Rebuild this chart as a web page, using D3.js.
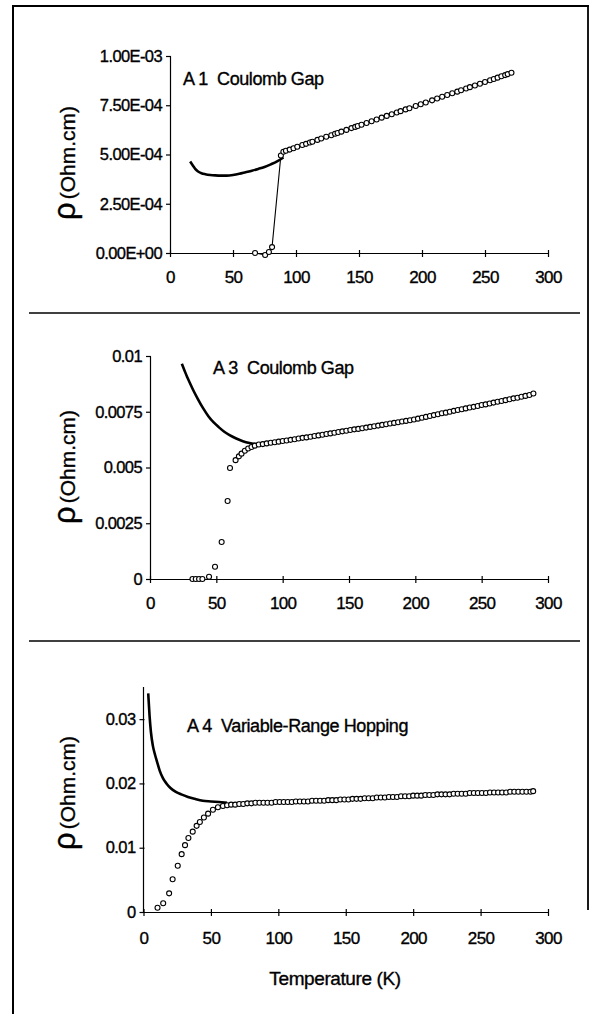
<!DOCTYPE html>
<html>
<head>
<meta charset="utf-8">
<script src="https://cdn.jsdelivr.net/npm/d3@7"></script>
<style>
  body { margin: 0; background: #fff; }
  text { font-family: "Liberation Sans", Arial, sans-serif; fill: #000; stroke: #000; stroke-width: 0.35px; white-space: pre; }
</style>
</head>
<body>
<div id="chart-area"></div>
<script>

// ---- data ----

// A1 (rho in Ohm.cm)
let a1FitT   = [16, 18, 20, 22, 25, 28, 32, 36, 40, 45, 50, 55, 60, 65, 70, 75, 80, 85, 90];
let a1FitRho = [4.64e-4, 4.45e-4, 4.27e-4, 4.15e-4, 4.05e-4, 4.0e-4, 3.96e-4, 3.94e-4, 3.93e-4, 3.93e-4,
                3.96e-4, 4.02e-4, 4.1e-4, 4.18e-4, 4.27e-4, 4.37e-4, 4.5e-4, 4.65e-4, 4.85e-4];
let a1T   = [67.5, 75.5, 78.5, 81, 88, 90, 92, 95, 98, 101, 105, 108, 111, 113, 117, 120, 124, 128, 131, 133,
             136, 140, 144, 147, 149, 152, 156, 160, 164, 168, 172, 176, 180, 183, 187, 190, 195, 199, 203, 208,
             212, 216, 220, 224, 228, 231, 235, 238, 242, 246, 250, 254, 257, 260, 263, 266, 268, 271];
let a1Rho = [0.0, -0.1e-4, 0.05e-4, 0.3e-4, 4.95e-4, 5.14e-4, 5.19e-4, 5.25e-4, 5.32e-4, 5.39e-4, 5.48e-4, 5.54e-4,
             5.61e-4, 5.65e-4, 5.74e-4, 5.81e-4, 5.9e-4, 5.98e-4, 6.05e-4, 6.09e-4, 6.16e-4, 6.25e-4, 6.34e-4,
             6.4e-4, 6.45e-4, 6.51e-4, 6.6e-4, 6.69e-4, 6.78e-4, 6.87e-4, 6.96e-4, 7.04e-4, 7.13e-4, 7.2e-4,
             7.29e-4, 7.35e-4, 7.46e-4, 7.55e-4, 7.64e-4, 7.75e-4, 7.84e-4, 7.93e-4, 8.02e-4, 8.11e-4, 8.19e-4,
             8.26e-4, 8.35e-4, 8.42e-4, 8.5e-4, 8.59e-4, 8.68e-4, 8.77e-4, 8.83e-4, 8.9e-4, 8.97e-4, 9.03e-4,
             9.08e-4, 9.15e-4];

// A3
let a3FitT   = [24, 26, 28, 30, 33, 36, 40, 44, 48, 52, 56, 60, 65, 70, 75, 80, 85];
let a3FitRho = [9.65e-3, 9.35e-3, 9.06e-3, 8.8e-3, 8.42e-3, 8.08e-3, 7.66e-3, 7.3e-3, 7.02e-3, 6.8e-3, 6.6e-3,
                6.45e-3, 6.3e-3, 6.18e-3, 6.1e-3, 6.05e-3, 6.04e-3];
let a3T   = [32, 34.5, 37, 39.5, 44.5, 49, 54, 58.5, 60.3, 64.5, 67, 69, 71.5, 74, 76.5, 79,
             82, 85, 88, 91, 94, 97, 100, 103, 106, 109, 112, 115, 118, 121, 124, 127, 130, 133, 136, 139,
             142, 145, 148, 151, 154, 157, 160, 163, 166, 169, 172, 175, 178, 181, 184, 187, 190, 193, 196, 199,
             202, 205, 208, 211, 214, 217, 220, 223, 226, 229, 232, 235, 238, 241, 244, 247, 250, 253, 256, 259,
             262, 265, 268, 271, 274, 277, 280, 283, 286, 289];
let a3Rho = [0, 0, 0, 0, 0.1e-3, 0.55e-3, 1.66e-3, 3.5e-3, 4.98e-3, 5.33e-3, 5.5e-3, 5.62e-3, 5.75e-3, 5.85e-3,
             5.92e-3, 5.98e-3,
             6.03e-3, 6.05e-3, 6.08e-3, 6.11e-3, 6.13e-3, 6.16e-3, 6.19e-3, 6.21e-3, 6.24e-3, 6.27e-3, 6.3e-3,
             6.33e-3, 6.35e-3, 6.38e-3, 6.41e-3, 6.44e-3, 6.47e-3, 6.5e-3, 6.53e-3, 6.56e-3, 6.59e-3, 6.62e-3,
             6.65e-3, 6.68e-3, 6.71e-3, 6.73e-3, 6.76e-3, 6.79e-3, 6.82e-3, 6.85e-3, 6.88e-3, 6.91e-3, 6.94e-3,
             6.97e-3, 7.0e-3, 7.03e-3, 7.06e-3, 7.09e-3, 7.12e-3, 7.15e-3, 7.19e-3, 7.23e-3, 7.27e-3, 7.31e-3,
             7.35e-3, 7.39e-3, 7.43e-3, 7.46e-3, 7.5e-3, 7.54e-3, 7.58e-3, 7.61e-3, 7.65e-3, 7.69e-3, 7.72e-3,
             7.76e-3, 7.8e-3, 7.83e-3, 7.87e-3, 7.91e-3, 7.95e-3, 7.98e-3, 8.02e-3, 8.06e-3, 8.1e-3, 8.13e-3,
             8.17e-3, 8.21e-3, 8.25e-3, 8.32e-3];

// A4
let a4FitT   = [3.5, 4.5, 5.5, 7, 8.5, 10, 12, 14.5, 17, 20, 24, 28, 33, 38, 44, 50, 56, 62];
let a4FitRho = [0.034, 0.0305, 0.028, 0.0258, 0.0245, 0.0234, 0.022, 0.0208, 0.02, 0.0193, 0.0187, 0.0183,
                0.0179, 0.0176, 0.0173, 0.0172, 0.0171, 0.017];
let a4T   = [10.4, 14.6, 19, 21.6, 25.4, 28.3, 30.8, 33.3, 36.5, 39.4, 41.8, 44.8, 47.9, 51.5, 55.2, 58.9,
             62, 65, 68, 71, 74, 77, 80, 83, 86, 89, 92, 95, 98, 101, 104, 107, 110, 113, 116, 119, 122, 125,
             128, 131, 134, 137, 140, 143, 146, 149, 152, 155, 158, 161, 164, 167, 170, 173, 176, 179, 182, 185,
             188, 191, 194, 197, 200, 203, 206, 209, 212, 215, 218, 221, 224, 227, 230, 233, 236, 239, 242, 245,
             248, 251, 254, 257, 260, 263, 266, 269, 272, 275, 278, 281, 284, 287, 289];
let a4Rho = [0.00067, 0.00135, 0.0029, 0.0051, 0.0072, 0.009, 0.0104, 0.0115, 0.0125, 0.0134, 0.014, 0.0147,
             0.0153, 0.0159, 0.0163, 0.0165,
             0.0166, 0.0167, 0.0167, 0.0168, 0.0168, 0.0169, 0.0169, 0.017, 0.017, 0.017, 0.017, 0.017, 0.0171,
             0.0171, 0.0171, 0.0171, 0.0171, 0.0172, 0.0172, 0.0172, 0.0172, 0.0173, 0.0173, 0.0173, 0.0173,
             0.0174, 0.0174, 0.0174, 0.0175, 0.0175, 0.0175, 0.0176, 0.0176, 0.0176, 0.0177, 0.0177, 0.0177,
             0.0178, 0.0178, 0.0178, 0.0179, 0.0179, 0.0179, 0.018, 0.018, 0.018, 0.0181, 0.0181, 0.0181,
             0.0182, 0.0182, 0.0182, 0.0183, 0.0183, 0.0183, 0.0183, 0.0184, 0.0184, 0.0184, 0.0184, 0.0185,
             0.0185, 0.0185, 0.0185, 0.0185, 0.0186, 0.0186, 0.0186, 0.0186, 0.0186, 0.0187, 0.0187, 0.0187,
             0.0187, 0.0187, 0.0187, 0.0188];

// axis ticks
let tempTicks = [0, 50, 100, 150, 200, 250, 300];
let a1Ticks = [0, 2.5e-4, 5e-4, 7.5e-4, 1e-3];
let a3Ticks = [0, 0.0025, 0.005, 0.0075, 0.01];
let a4Ticks = [0, 0.01, 0.02, 0.03];

let titles = ["A 1  Coulomb Gap", "A 3  Coulomb Gap", "A 4  Variable-Range Hopping"];

// ---- drawing ----
let width = 590,
    height = 1014;

let svg = d3.select("#chart-area").append("svg")
    .attr("width", width)
    .attr("height", height);

// frame of the scanned figure
svg.append("line").attr("x1", 13).attr("x2", 13).attr("y1", 5).attr("y2", height)
  .attr("stroke", "#000").attr("stroke-width", 2);
svg.append("line").attr("x1", 12).attr("x2", 589).attr("y1", 6).attr("y2", 6)
  .attr("stroke", "#000").attr("stroke-width", 1.8);
svg.append("line").attr("x1", 588).attr("x2", 588).attr("y1", 5).attr("y2", 910)
  .attr("stroke", "#000").attr("stroke-width", 1.8);
[313, 641].forEach(function(y) {
  svg.append("line").attr("x1", 29).attr("x2", 580).attr("y1", y).attr("y2", y)
    .attr("stroke", "#000").attr("stroke-width", 1.6);
});

// excel-ish scientific labels, e.g. 7.50E-04
function sciFormat(d) {
  if (d === 0) return "0.00E+00";
  let e = Math.floor(Math.log10(Math.abs(d)) + 1e-9);
  let m = d / Math.pow(10, e);
  let s = e < 0 ? "-" : "+";
  return m.toFixed(2) + "E" + s + String(Math.abs(e)).padStart(2, "0");
}
function plainFormat(d) { return String(+d.toFixed(5)); }

let panels = [
  { x0: 170, x1: 548, yTop: 56, yBot: 253, yMax: 1e-3, ticks: a1Ticks, fmt: sciFormat,
    fitT: a1FitT, fitRho: a1FitRho, T: a1T, rho: a1Rho, joined: true,
    title: titles[0], titleX: 183, titleY: 85, labelY: 163, xLabOff: 30 },
  { x0: 150, x1: 548, yTop: 356, yBot: 579, yMax: 0.01, ticks: a3Ticks, fmt: plainFormat,
    fitT: a3FitT, fitRho: a3FitRho, T: a3T, rho: a3Rho, joined: false,
    title: titles[1], titleX: 213, titleY: 374, labelY: 467, xLabOff: 30 },
  { x0: 143.5, x1: 548, yTop: 687, yBot: 912, yMax: 0.035, ticks: a4Ticks, fmt: plainFormat,
    fitT: a4FitT, fitRho: a4FitRho, T: a4T, rho: a4Rho, joined: false,
    title: titles[2], titleX: 187, titleY: 732, labelY: 793, xLabOff: 32 }
];

panels.forEach(function(p) {
  let x = d3.scaleLinear().domain([0, 300]).range([p.x0, p.x1]);
  let y = d3.scaleLinear().domain([0, p.yMax]).range([p.yBot, p.yTop]);

  // x axis
  let gx = svg.append("g")
    .attr("transform", "translate(0," + p.yBot + ")")
    .call(d3.axisBottom(x).tickValues(tempTicks).tickSizeInner(4).tickSizeOuter(0).tickFormat(d3.format("d")));
  gx.selectAll("line").attr("y1", -3);
  gx.selectAll("text").attr("y", p.xLabOff - 6).attr("dy", "0.35em")
    .style("font-size", "17px").style("letter-spacing", "-0.6px");

  // y axis
  let gy = svg.append("g")
    .attr("transform", "translate(" + p.x0 + ",0)")
    .call(d3.axisLeft(y).tickValues(p.ticks).tickSizeInner(4).tickSizeOuter(0).tickFormat(p.fmt));
  gy.selectAll("line").attr("x1", 1);
  gy.selectAll("text").attr("x", -8)
    .style("font-size", "16.5px").style("letter-spacing", "-0.6px");
  if (p.yMax === 0.035) {
    gy.select(".domain").attr("d", "M0," + y(p.yMax) + "V" + p.yBot);
  }

  svg.selectAll(".domain, .tick line").attr("stroke", "#000").attr("stroke-width", 1.2);

  // fitted curve
  let fit = p.fitT.map(function(t, i) { return [t, p.fitRho[i]]; });
  svg.append("path")
    .datum(fit)
    .attr("fill", "none")
    .attr("stroke", "#000")
    .attr("stroke-width", 2.6)
    .attr("d", d3.line().curve(d3.curveMonotoneX)
      .x(function(d) { return x(d[0]); })
      .y(function(d) { return y(d[1]); }));

  // measured points
  let pts = p.T.map(function(t, i) { return [t, p.rho[i]]; });
  if (p.joined) {
    svg.append("path")
      .datum(pts)
      .attr("fill", "none")
      .attr("stroke", "#000")
      .attr("stroke-width", 1.1)
      .attr("d", d3.line()
        .x(function(d) { return x(d[0]); })
        .y(function(d) { return y(d[1]); }));
  }
  svg.append("g").selectAll("circle")
    .data(pts)
    .enter().append("circle")
    .attr("cx", function(d) { return x(d[0]); })
    .attr("cy", function(d) { return y(d[1]); })
    .attr("r", 2.5)
    .attr("fill", "#fff")
    .attr("stroke", "#000")
    .attr("stroke-width", 1.1);

  // panel title
  svg.append("text")
    .attr("x", p.titleX)
    .attr("y", p.titleY)
    .attr("xml:space", "preserve")
    .style("font-size", "18px")
    .style("letter-spacing", "-0.4px")
    .text(p.title);

  // y label: rho (Ohm.cm)
  let lab = svg.append("text")
    .attr("transform", "translate(75," + p.labelY + ") rotate(-90)")
    .attr("text-anchor", "middle");
  lab.append("tspan").style("font-size", "31px").text("ρ");
  lab.append("tspan").attr("dx", 3).style("font-size", "21px").text("(Ohm.cm)");
});

// shared x label
svg.append("text")
  .attr("x", 335)
  .attr("y", 985)
  .attr("text-anchor", "middle")
  .style("font-size", "19px")
  .style("letter-spacing", "-0.4px")
  .text("Temperature (K)");

</script>
</body>
</html>
